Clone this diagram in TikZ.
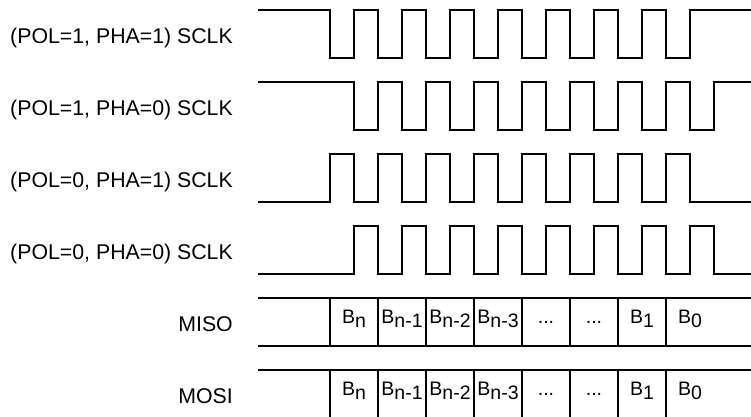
\documentclass[tikz,border=0pt]{standalone}
\usepackage{fontspec}
\setmainfont{Liberation Sans}
\newcommand\bsub[1]{B\raisebox{-4pt}{#1}}
\tikzset{
  wave/.style={line width=1.2pt, line join=miter},
  bus/.style={line width=1.2pt},
  lbl/.style={anchor=base east, inner sep=0pt, font=\fontsize{21.3}{25}\selectfont},
  cell/.style={anchor=base, inner sep=0pt, font=\fontsize{19.5}{23}\selectfont}
}
\begin{document}
\begin{tikzpicture}[x=1pt,y=-1pt]
\useasboundingbox (0,0) rectangle (751,416);
% labels
\node[lbl] (l1) at (233,43.5) {(POL=1, PHA=1) SCLK};
\node[lbl] (l2) at (233,115.5) {(POL=1, PHA=0) SCLK};
\node[lbl] (l3) at (233,187.5) {(POL=0, PHA=1) SCLK};
\node[lbl] (l4) at (233,259.5) {(POL=0, PHA=0) SCLK};
\node[lbl] (l5) at (233,331.5) {MISO};
\node[lbl] (l6) at (233,403.5) {MOSI};
% row 1: POL=1, PHA=1
\draw[wave] (258,10) foreach \k in {0,...,7} {
  -- ({330+48*\k},10) -- ({330+48*\k},58) -- ({354+48*\k},58) -- ({354+48*\k},10) } -- (751,10);
% row 2: POL=1, PHA=0
\draw[wave] (258,82) foreach \k in {0,...,7} {
  -- ({354+48*\k},82) -- ({354+48*\k},130) -- ({378+48*\k},130) -- ({378+48*\k},82) } -- (751,82);
% row 3: POL=0, PHA=1
\draw[wave] (258,202) foreach \k in {0,...,7} {
  -- ({330+48*\k},202) -- ({330+48*\k},154) -- ({354+48*\k},154) -- ({354+48*\k},202) } -- (751,202);
% row 4: POL=0, PHA=0
\draw[wave] (258,274) foreach \k in {0,...,7} {
  -- ({354+48*\k},274) -- ({354+48*\k},226) -- ({378+48*\k},226) -- ({378+48*\k},274) } -- (751,274);
% MISO bus
\draw[bus] (258,298) -- (751,298);
\draw[bus] (258,346) -- (751,346);
\foreach \k in {0,...,7} { \draw[bus] ({330+48*\k},298) -- ({330+48*\k},346); }
% MOSI bus
\draw[bus] (258,370) -- (751,370);
\foreach \k in {0,...,7} { \draw[bus] ({330+48*\k},370) -- ({330+48*\k},417); }
% cell texts
\foreach \y/\r in {323.7/a,395.5/b} {
  \node[cell] (\r1) at (354,\y) {\bsub{n}};
  \node[cell] (\r2) at (402,\y) {\bsub{n-1}};
  \node[cell] (\r3) at (450,\y) {\bsub{n-2}};
  \node[cell] (\r4) at (498,\y) {\bsub{n-3}};
  \node[cell] (\r5) at (546,\y) {...};
  \node[cell] (\r6) at (594,\y) {...};
  \node[cell] (\r7) at (642,\y) {\bsub{1}};
  \node[cell] (\r8) at (690,\y) {\bsub{0}};
}
\end{tikzpicture}
\end{document}
